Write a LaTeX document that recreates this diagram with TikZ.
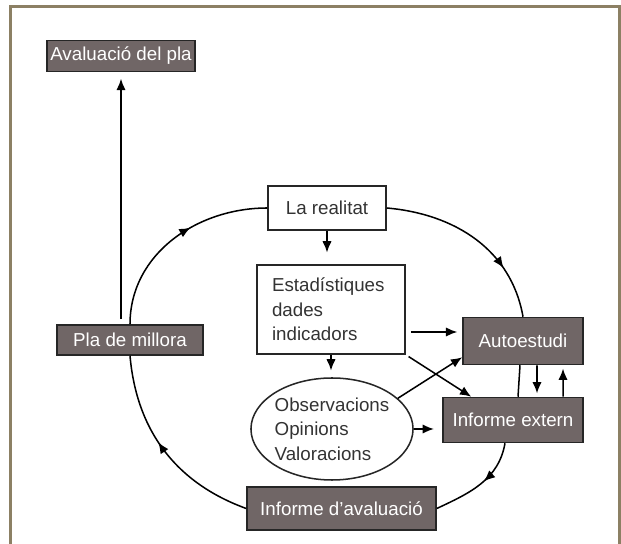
\documentclass[tikz,border=0pt]{standalone}
\usepackage{fontspec}
\setmainfont{Liberation Sans}
\usepackage{tikz}
\usetikzlibrary{shapes.geometric, arrows.meta, decorations.markings, calc, positioning}
\definecolor{boxgray}{RGB}{112,102,102}
\definecolor{framecol}{RGB}{140,128,100}

\begin{document}
\begin{tikzpicture}[every node/.style={font=\fontsize{16}{21}\selectfont, inner sep=0pt},
    >={Latex[length=3.4mm,width=2.8mm]}, line width=1.3pt,
    darkbox/.style={draw=black!85, fill=boxgray, text=white},
    whitebox/.style={draw=black!85, fill=white, text=black!80},
    midarrow/.style={postaction={decorate}, decoration={markings,
        mark=at position #1 with {\arrow{Latex[length=3.4mm,width=2.8mm]}}}},
    midarrow/.default=0.5]

  \useasboundingbox (0,0) rectangle (18.63,16.32);

  % Marc
  \draw[framecol, line width=2pt] (0.315,-0.2) -- (0.315,16.125) -- (18.585,16.125) -- (18.585,-0.2);

  % Caixes
  \node[darkbox, minimum width=4.44cm, minimum height=0.93cm] (aval) at (3.63,14.645) {Avaluació del pla};
  \node[whitebox, minimum width=3.54cm, minimum height=1.32cm] (realitat) at (9.81,10.08) {La realitat};
  \node[whitebox, text width=3.54cm, inner xsep=0.45cm, minimum height=2.67cm, align=left] (estad) at (9.93,7.035)
      {Estadístiques\\dades\\indicadors};
  \node[whitebox, ellipse, align=left, minimum width=4.77cm, minimum height=3.06cm] (obs) at (9.96,3.45)
      {Observacions\\Opinions\\Valoracions};
  \node[darkbox, minimum width=3.6cm, minimum height=1.41cm] (auto) at (15.69,6.09) {Autoestudi};
  \node[darkbox, minimum width=4.2cm, minimum height=1.35cm] (ext) at (15.39,3.72) {Informe extern};
  \node[darkbox, minimum width=5.67cm, minimum height=1.29cm] (infaval) at (10.245,1.065) {Informe d'avaluació};
  \node[darkbox, minimum width=4.38cm, minimum height=0.9cm] (pla) at (3.9,6.12) {Pla de millora};

  % Cicle
  \draw[midarrow=0.6] (pla.north) to[out=90, in=180] (realitat.west);
  \draw[midarrow=0.72] (realitat.east) to[out=-5, in=100] (auto.north);
  \draw ([xshift=-0.09cm]auto.south) -- ([xshift=0.15cm]ext.north);
  \draw[midarrow=0.45] ([xshift=-0.24cm]ext.south) to[out=-100, in=25] (infaval.east);
  \draw[midarrow=0.55] (infaval.west) to[out=160, in=-85] (pla.south);

  % Fletxes
  \draw[->, shorten <=0.15cm, shorten >=0.2cm] (aval.south |- pla.north) -- (aval.south);
  \draw[->, shorten >=0.35cm] (realitat.south) -- (realitat.south |- estad.north);
  \draw[->, shorten >=0.2cm] (estad.south) -- (estad.south |- obs.north);
  \draw[->, shorten <=0.15cm, shorten >=0.15cm] ([yshift=-0.675cm]estad.east) -- ([yshift=0.27cm]auto.west);
  \draw[->, shorten <=0.1cm] (estad.south east) -- ([xshift=0.87cm]ext.north west);
  \draw[->] (obs.25) -- ([yshift=0.24cm]auto.south west);
  \draw[->, shorten >=0.25cm] (obs.east) -- ([yshift=-0.27cm]ext.west);
  \draw[->, shorten >=0.1cm] ([xshift=0.42cm]auto.south) -- ([xshift=0.72cm]ext.north);
  \draw[->, shorten >=0.1cm] ([xshift=1.5cm]ext.north) -- ([xshift=1.2cm]auto.south);

\end{tikzpicture}
\end{document}
